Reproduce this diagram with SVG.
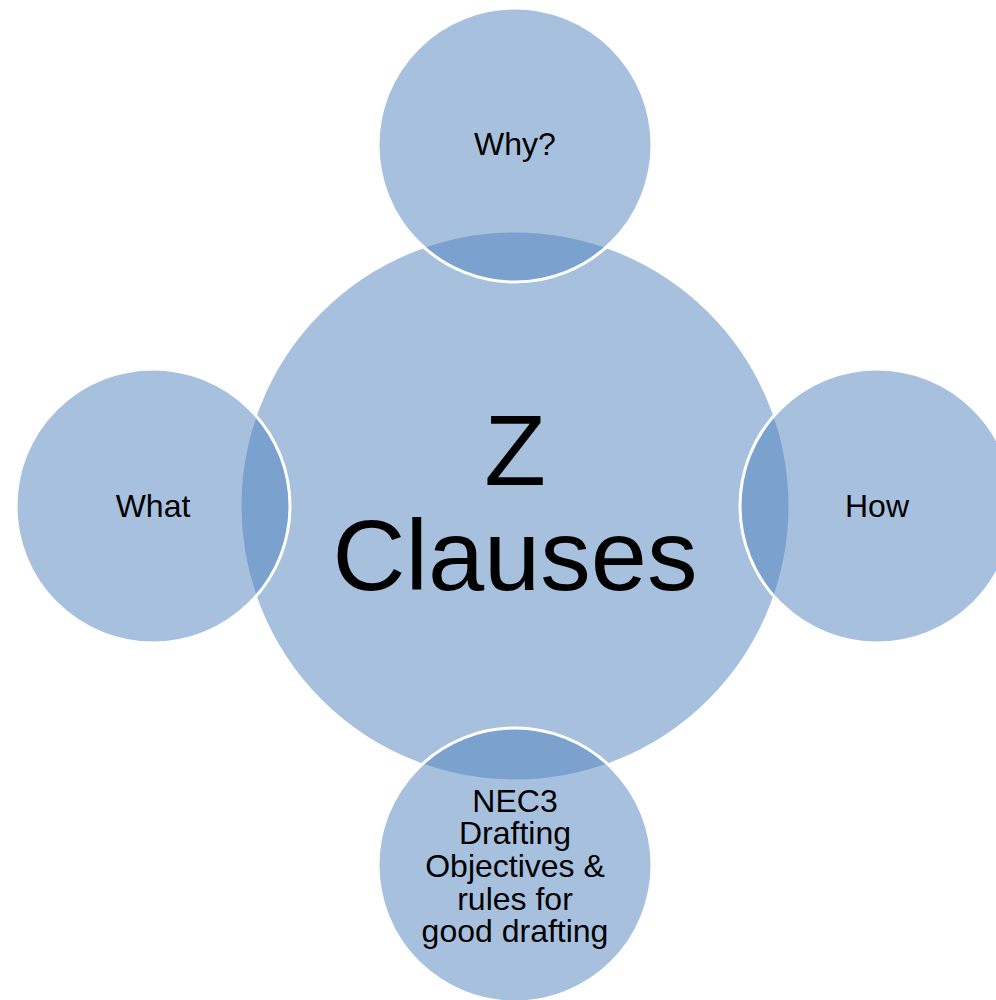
<svg xmlns="http://www.w3.org/2000/svg" width="996" height="1000" viewBox="0 0 996 1000">
<style>
.c{fill:#4f81bd;fill-opacity:0.5;stroke:#ffffff;stroke-width:3}
.t{font-family:"Liberation Sans",Arial,sans-serif;fill:#000000;text-anchor:middle}
.s{font-size:32px}
.b{font-size:101px}
</style>
<rect width="996" height="1000" fill="#ffffff"/>
<g id="connectors"></g>
<g id="center">
<circle class="c" cx="515" cy="506" r="275"/>
<text class="t b" x="515" y="485">Z</text>
<text class="t b" x="515" y="590">Clauses</text>
</g>
<g id="why">
<circle class="c" cx="515" cy="145" r="137"/>
<text class="t s" x="515" y="155">Why?</text>
</g>
<g id="what">
<circle class="c" cx="153" cy="506" r="137"/>
<text class="t s" x="153" y="517">What</text>
</g>
<g id="how">
<circle class="c" cx="877" cy="506" r="137"/>
<text class="t s" x="877" y="517">How</text>
</g>
<g id="nec3">
<circle class="c" cx="515" cy="865" r="137"/>
<text class="t s" x="515" y="812">NEC3</text>
<text class="t s" x="515" y="844">Drafting</text>
<text class="t s" x="515" y="877">Objectives &amp;</text>
<text class="t s" x="515" y="910">rules for</text>
<text class="t s" x="515" y="942">good drafting</text>
</g>
</svg>
